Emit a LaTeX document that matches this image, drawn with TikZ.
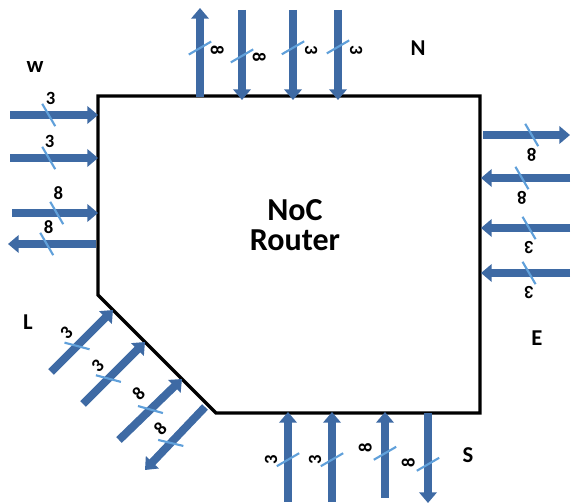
\documentclass[tikz,border=0pt]{standalone}
\usepackage{fontspec}
\setmainfont{Carlito}
\usepackage{tikz}
\usetikzlibrary{arrows.meta, decorations.markings}

\definecolor{busblue}{RGB}{62,106,164}
\definecolor{cutblue}{RGB}{96,160,218}

\begin{document}
\begin{tikzpicture}[
      x=0.75pt, y=0.75pt,
      >={Triangle[length=8pt, width=13pt]},
      bus/.style={draw=busblue, line width=6pt},
      inbus/.style={bus, ->},
      outbus/.style={bus, <-},
      wirecut/.style={postaction={decorate, decoration={markings,
          mark=at position #1 with {\draw[-, cutblue, line width=1.6pt] (-6.5,11.2) -- (6.5,-11.2);}}}},
      lbl/.style={sloped, allow upside down, above, inner xsep=1pt, inner ysep=5pt, font=\bfseries\fontsize{14}{14}\selectfont},
      port/.style={font=\bfseries\fontsize{17}{17}\selectfont},
      router/.style={align=center, font=\bfseries\fontsize{24}{22.5}\selectfont}
  ]
      \useasboundingbox (0,0) rectangle (571,503);

      % Router outline
      \coordinate (nw) at (98,407);
      \coordinate (ne) at (480,407);
      \coordinate (se) at (480,90);
      \coordinate (sw) at (216,90);
      \coordinate (lw) at (98,208);
      \draw[line width=2.4pt, line join=miter] (nw) -- (ne) -- (se) -- (sw) -- (lw) -- cycle;
      \node[router] (noc) at (295,278) {NoC\\Router};

      % West port
      \coordinate (w1o) at (10,388);  \coordinate (w1i) at (98,388);
      \coordinate (w2o) at (10,345);  \coordinate (w2i) at (98,345);
      \coordinate (w3o) at (12,290);  \coordinate (w3i) at (98,290);
      \coordinate (w4o) at (8,259);   \coordinate (w4i) at (96,259);
      \draw[inbus, wirecut=.44] (w1o) -- (w1i) node[lbl, pos=.46] (w1l) {3};
      \draw[inbus, wirecut=.44] (w2o) -- (w2i) node[lbl, pos=.45] (w2l) {3};
      \draw[inbus, wirecut=.52] (w3o) -- (w3i) node[lbl, pos=.54, inner ysep=7pt] (w3l) {8};
      \draw[outbus, wirecut=.44] (w4o) -- (w4i) node[lbl, pos=.46] (w4l) {8};
      \node[port] (wport) at (35,436) {w};

      % North port
      \coordinate (n1o) at (200,495); \coordinate (n1i) at (200,406);
      \coordinate (n2o) at (242,493); \coordinate (n2i) at (242,403);
      \coordinate (n3o) at (293,493); \coordinate (n3i) at (293,403);
      \coordinate (n4o) at (338,493); \coordinate (n4i) at (338,403);
      \draw[outbus, wirecut=.45] (n1o) -- (n1i) node[lbl, pos=.48] (n1l) {8};
      \draw[inbus, wirecut=.51] (n2o) -- (n2i) node[lbl, pos=.53] (n2l) {8};
      \draw[inbus, wirecut=.42] (n3o) -- (n3i) node[lbl, pos=.45, inner ysep=6pt] (n3l) {3};
      \draw[inbus, wirecut=.41] (n4o) -- (n4i) node[lbl, pos=.45, inner ysep=6pt] (n4l) {3};
      \node[port] (nport) at (418,455) {N};

      % East port
      \coordinate (e1o) at (570,368); \coordinate (e1i) at (483,368);
      \coordinate (e2o) at (570,325); \coordinate (e2i) at (481,325);
      \coordinate (e3o) at (570,275); \coordinate (e3i) at (481,275);
      \coordinate (e4o) at (570,230); \coordinate (e4i) at (481,230);
      \draw[outbus, wirecut=.44] (e1o) -- (e1i) node[lbl, pos=.44, inner ysep=7pt] (e1l) {8};
      \draw[inbus, wirecut=.54] (e2o) -- (e2i) node[lbl, pos=.54, inner ysep=7pt] (e2l) {8};
      \draw[inbus, wirecut=.46] (e3o) -- (e3i) node[lbl, pos=.46, inner ysep=7pt] (e3l) {3};
      \draw[inbus, wirecut=.46] (e4o) -- (e4i) node[lbl, pos=.46, inner ysep=7pt] (e4l) {3};
      \node[port] (eport) at (537,165) {E};

      % South port
      \coordinate (s1o) at (288,1);   \coordinate (s1i) at (288,91);
      \coordinate (s2o) at (332,1);   \coordinate (s2i) at (332,91);
      \coordinate (s3o) at (385,5);   \coordinate (s3i) at (385,91);
      \coordinate (s4o) at (428,0);   \coordinate (s4i) at (428,90);
      \draw[inbus, wirecut=.47] (s1o) -- (s1i) node[lbl, pos=.47] (s1l) {3};
      \draw[inbus, wirecut=.47] (s2o) -- (s2i) node[lbl, pos=.47] (s2l) {3};
      \draw[inbus, wirecut=.52] (s3o) -- (s3i) node[lbl, pos=.58, inner ysep=7pt] (s3l) {8};
      \draw[outbus, wirecut=.43] (s4o) -- (s4i) node[lbl, pos=.45, inner ysep=7pt] (s4l) {8};
      \node[port] (sport) at (468,48) {S};

      % Local port
      \coordinate (l1o) at (51,131);  \coordinate (l1i) at (113,193);
      \coordinate (l2o) at (83,99);   \coordinate (l2i) at (145,161);
      \coordinate (l3o) at (119,63);  \coordinate (l3i) at (182,124);
      \coordinate (l4o) at (145,33);  \coordinate (l4i) at (205,96);
      \draw[inbus, wirecut=.42] (l1o) -- (l1i) node[lbl, pos=.44] (l1l) {3};
      \draw[inbus, wirecut=.41] (l2o) -- (l2i) node[lbl, pos=.43] (l2l) {3};
      \draw[inbus, wirecut=.50] (l3o) -- (l3i) node[lbl, pos=.53, inner ysep=7pt] (l3l) {8};
      \draw[outbus, wirecut=.43] (l4o) -- (l4i) node[lbl, pos=.46] (l4l) {8};
      \node[port] (lport) at (28,181) {L};

  \end{tikzpicture}
\end{document}
